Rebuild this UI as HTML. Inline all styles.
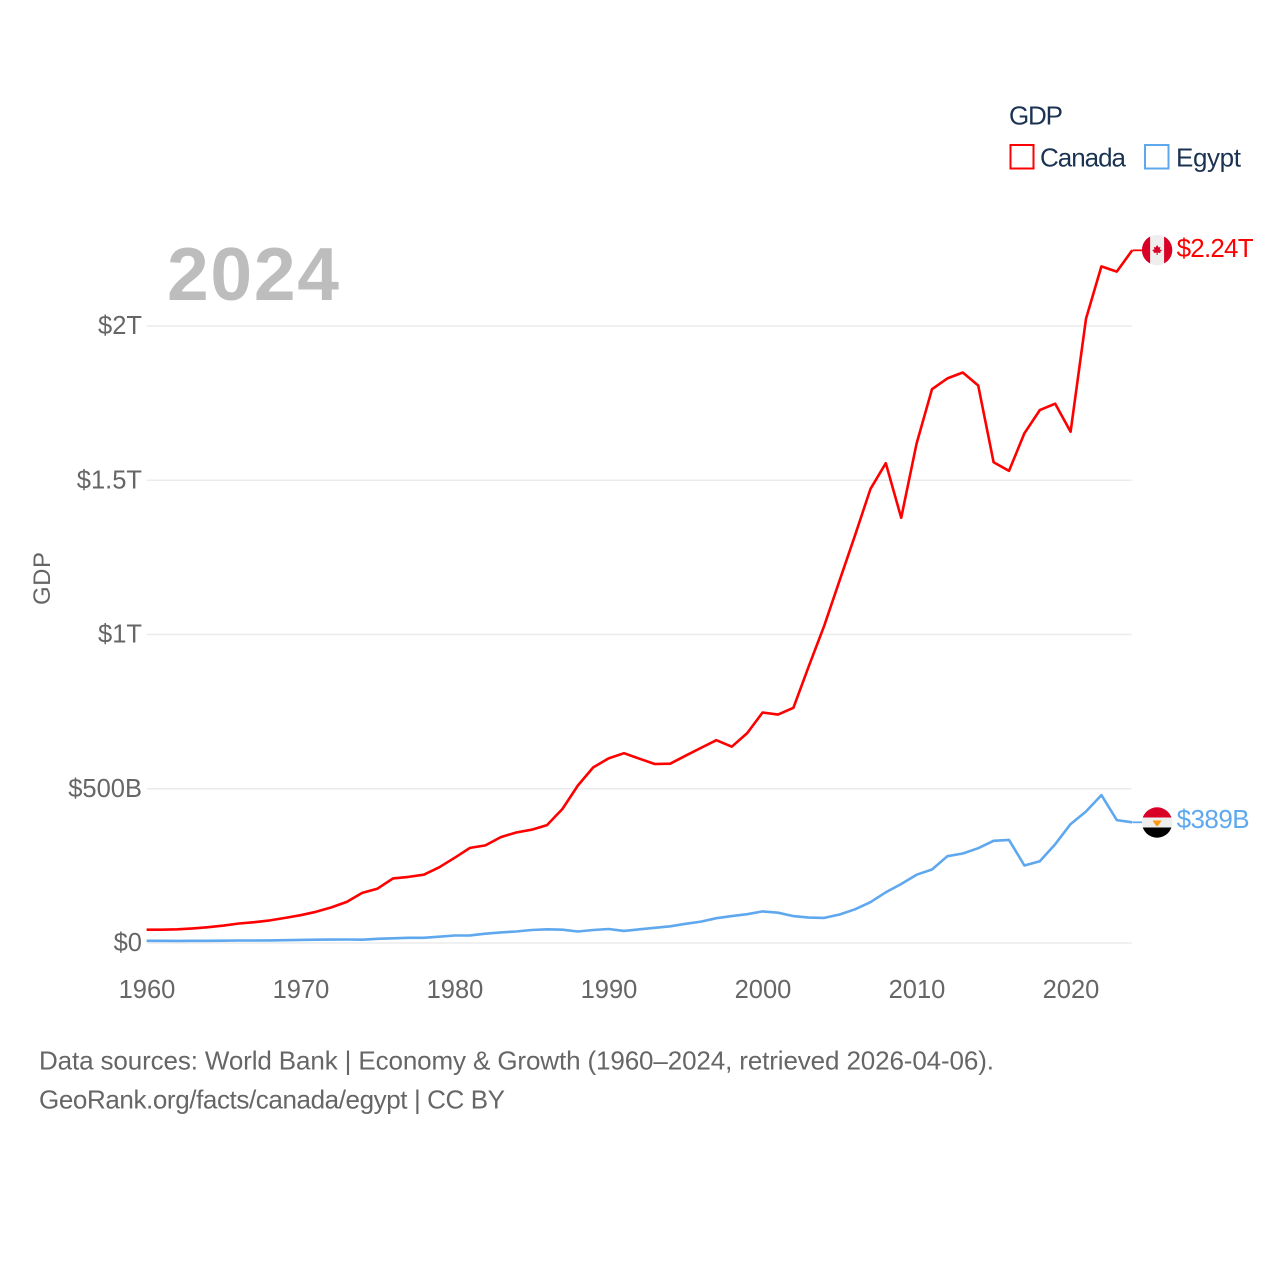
<!DOCTYPE html>
<html lang="en">
<head>
<meta charset="utf-8">
<title>GDP: Canada and Egypt, 1960–2024</title>
<style>
html,body{margin:0;padding:0;background:#fff;width:1280px;height:1280px;overflow:hidden}
svg{display:block}
text{font-family:"Liberation Sans",sans-serif}
</style>
</head>
<body>
<svg id="chart" xmlns="http://www.w3.org/2000/svg" width="1280" height="1280" viewBox="0 0 1280 1280">
  <rect width="1280" height="1280" fill="#ffffff"/>
  <g id="grid"></g>
  <g id="yticks"></g>
  <g id="xticks"></g>
  <text x="167" y="300" font-size="75" font-weight="bold" fill="#bdbdbd" textLength="172">2024</text>
  <text transform="translate(50,578.5) rotate(-90)" text-anchor="middle" font-size="24" fill="#666666" textLength="53">GDP</text>
  <g id="series"></g>
  <g id="ends"></g>
  <g>
    <text x="1009" y="124.5" font-size="26" fill="#1b3352" textLength="54">GDP</text>
    <rect x="1010.5" y="145" width="23" height="23.5" fill="none" stroke="#ff0000" stroke-width="2"/>
    <text x="1040" y="166.5" font-size="26" fill="#1b3352" textLength="86">Canada</text>
    <rect x="1145" y="145" width="23.5" height="23.5" fill="none" stroke="#5fa8ee" stroke-width="2"/>
    <text x="1176" y="166.5" font-size="26" fill="#1b3352" textLength="65">Egypt</text>
  </g>
  <text x="39" y="1069.5" font-size="26" fill="#666666" textLength="955">Data sources: World Bank | Economy &amp; Growth (1960–2024, retrieved 2026-04-06).</text>
  <text x="39" y="1108.5" font-size="26" fill="#666666" textLength="466">GeoRank.org/facts/canada/egypt | CC BY</text>
</svg>
<script>
const startYear = 1960;
const yTickValues = [0, 500, 1000, 1500, 2000];
const yTickLabels = ["$0", "$500B", "$1T", "$1.5T", "$2T"];
const xTickValues = [1960, 1970, 1980, 1990, 2000, 2010, 2020];
const canadaGdp = [41,41,42,45,49,54,61,65,71,79,88,99,113,131,160,174,207,212,219,243,274,306,314,341,356,365,380,432,508,567,596,613,595,578,579,605,630,655,634,678,745,738,760,895,1026,1173,1319,1469,1553,1376,1617,1793,1828,1847,1805,1556,1528,1650,1725,1746,1655,2021,2191,2174,2243];
const egyptGdp = [5,5,4.5,5,5,5.3,5.8,5.8,6.2,6.8,7.7,8.3,8.7,9.1,8.5,11.5,13,14.5,14.5,18,22,22.5,28,32,35,40,42,41,35,40,43,37,42,47,52,60,67,78,85,91,100,96,85,80,79,90,107,130,162,189,219,236,279,288,305,329,332,249,263,318,383,424,477,396,389];
const canadaEndLabel = "$2.24T";
const egyptEndLabel = "$389B";

const NS = "http://www.w3.org/2000/svg";
const xScale = function (year) { return 147 + (year - 1960) * 15.4; };
const yScale = function (v) { return 943 - v * 0.3085; };
const xEnd = xScale(startYear + canadaGdp.length - 1);

function make(tag, attrs, parent) {
  const el = document.createElementNS(NS, tag);
  Object.keys(attrs).forEach(function (k) { el.setAttribute(k, attrs[k]); });
  parent.appendChild(el);
  return el;
}

const gridGroup = document.getElementById("grid");
const yGroup = document.getElementById("yticks");
yTickValues.forEach(function (v, i) {
  const line = make("line", { x1: 147, x2: xEnd - 1, y1: yScale(v), y2: yScale(v), stroke: "#ebebeb", "stroke-width": 1.6 }, gridGroup);
  
  
  const label = make("text", { x: 142, y: yScale(v) + 8, "text-anchor": "end", "font-size": 25.5, fill: "#666666" }, yGroup);
  label.textContent = yTickLabels[i];
  
  
});

const xGroup = document.getElementById("xticks");
xTickValues.forEach(function (year) {
  const label = make("text", { x: xScale(year), y: 998, "text-anchor": "middle", "font-size": 25.5, fill: "#666666" }, xGroup);
  label.textContent = String(year);
  
  
});

const seriesGroup = document.getElementById("series");
function drawSeries(values, color, name) {
  const pts = values.map(function (v, i) { return (xScale(startYear + i) - 0.4).toFixed(1) + "," + (yScale(v) - 0.7).toFixed(1); });
  const last = values[values.length - 1];
  const line = make("polyline", { points: pts.join(" "), fill: "none", stroke: color, "stroke-width": 2.6, "stroke-linejoin": "round" }, seriesGroup);
  
  
  const lead = make("line", { x1: xEnd, x2: xEnd + 12, y1: yScale(last) - 0.7, y2: yScale(last) - 0.7, stroke: color, "stroke-width": 1.8 }, seriesGroup);
  
  
}
drawSeries(canadaGdp, "#ff0000", "line-canada");
drawSeries(egyptGdp, "#5fa8ee", "line-egypt");

const endsGroup = document.getElementById("ends");
const flagX = xEnd + 24.5;
function endLabel(value, text, color, name, width, dy) {
  const t = make("text", { x: xEnd + 44, y: yScale(value) + dy, "font-size": 26, fill: color, textLength: width }, endsGroup);
  t.textContent = text;
  
  
}
const canadaY = yScale(canadaGdp[canadaGdp.length - 1]);
const egyptY = yScale(egyptGdp[egyptGdp.length - 1]);

const clipDefs = make("defs", {}, endsGroup);
const clip = make("clipPath", { id: "flag-clip" }, clipDefs);
make("circle", { cx: 0, cy: 0, r: 15.2 }, clip);

const canadaFlag = make("g", { transform: "translate(" + flagX + "," + (canadaY - 1) + ")", "clip-path": "url(#flag-clip)" }, endsGroup);


make("rect", { x: -16, y: -16, width: 32, height: 32, fill: "#eeeeee" }, canadaFlag);
make("rect", { x: -16, y: -16, width: 9, height: 32, fill: "#d80027" }, canadaFlag);
make("rect", { x: 7, y: -16, width: 9, height: 32, fill: "#d80027" }, canadaFlag);
make("polygon", { points: "0,-5 1.6,-2.5 3.4,-3 2.6,-0.5 5,0 3,2 3.5,3 0.5,2.6 0.5,5 -0.5,5 -0.5,2.6 -3.5,3 -3,2 -5,0 -2.6,-0.5 -3.4,-3 -1.6,-2.5", fill: "#d80027" }, canadaFlag);

const egyptFlag = make("g", { transform: "translate(" + flagX + "," + (egyptY - 0.5) + ")", "clip-path": "url(#flag-clip)" }, endsGroup);


make("rect", { x: -16, y: -16, width: 32, height: 11, fill: "#d80027" }, egyptFlag);
make("rect", { x: -16, y: -5, width: 32, height: 10, fill: "#eeeeee" }, egyptFlag);
make("rect", { x: -16, y: 5, width: 32, height: 11, fill: "#000000" }, egyptFlag);
make("polygon", { points: "-4.5,-2 4.5,-2 2,2 0,4 -2,2", fill: "#ff9811" }, egyptFlag);

endLabel(canadaGdp[canadaGdp.length - 1], canadaEndLabel, "#ff0000", "end-label-canada", 77, 6);
endLabel(egyptGdp[egyptGdp.length - 1], egyptEndLabel, "#5fa8ee", "end-label-egypt", 73, 5);
</script>
</body>
</html>
